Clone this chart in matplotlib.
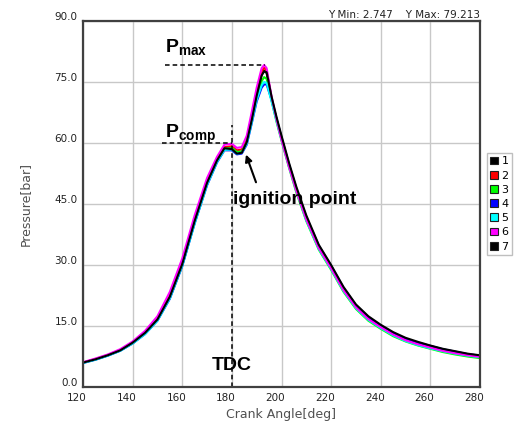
import matplotlib
matplotlib.use("Agg")
import matplotlib.pyplot as plt
import matplotlib.transforms as mtransforms
from matplotlib.patches import Patch

# crank angle [deg] shared by all cycles
angle = [120, 125, 130, 135, 140, 145, 150, 155, 160, 165, 170, 174, 177, 180, 182, 184, 186, 188, 190,
         192, 193, 194, 196, 198, 200, 203, 206, 210, 215, 220, 225, 230, 235, 240, 245, 250, 255,
         260, 265, 270, 275, 280]

# pressure [bar] for cycles 1..7
p1 = [6.0, 6.8, 7.8, 9.0, 10.8, 13.2, 16.5, 22.0, 30.0, 40.5, 50.0, 55.6, 58.6, 58.6, 57.6, 57.8, 60.4, 66.0, 72.0,
      76.8, 77.8, 77.2, 70.8, 65.8, 61.2, 54.6, 48.6, 41.6, 34.6, 29.6, 24.2, 20.0, 17.1, 15.0, 13.2, 11.8, 10.8,
      10.0, 9.2, 8.6, 8.0, 7.6]
p2 = [6.0, 6.9, 7.9, 9.1, 11.0, 13.4, 16.8, 22.4, 30.6, 41.0, 50.5, 56.0, 59.0, 59.2, 58.2, 58.4, 61.0, 66.6, 72.6,
      77.6, 78.5, 77.8, 71.0, 65.8, 61.0, 54.4, 48.4, 41.4, 34.4, 29.4, 24.0, 19.8, 16.9, 14.8, 13.0, 11.6, 10.6,
      9.8, 9.0, 8.4, 7.8, 7.4]
p3 = [6.0, 6.8, 7.8, 9.0, 10.8, 13.2, 16.5, 22.0, 30.0, 40.6, 50.0, 55.6, 58.6, 58.8, 57.8, 57.9, 60.2, 65.6, 71.2,
      75.2, 76.2, 75.8, 70.4, 65.2, 60.6, 54.0, 47.8, 40.8, 33.8, 28.8, 23.4, 19.2, 16.3, 14.3, 12.5, 11.2, 10.2,
      9.4, 8.6, 8.0, 7.5, 7.1]
p4 = [5.9, 6.7, 7.7, 8.9, 10.7, 13.0, 16.3, 21.7, 29.7, 40.2, 49.6, 55.2, 58.2, 58.2, 57.2, 57.4, 59.6, 64.8, 70.2,
      73.6, 74.4, 74.4, 70.6, 66.0, 61.4, 54.8, 48.8, 41.8, 34.8, 29.8, 24.4, 20.1, 17.2, 15.1, 13.3, 11.9, 10.9,
      10.1, 9.3, 8.7, 8.1, 7.7]
p5 = [5.9, 6.7, 7.7, 8.9, 10.7, 13.0, 16.3, 21.8, 29.8, 40.2, 49.7, 55.3, 58.3, 58.4, 57.4, 57.6, 59.8, 65.0, 70.6,
      74.2, 75.0, 74.8, 70.2, 65.4, 60.8, 54.2, 48.2, 41.0, 34.0, 29.0, 23.6, 19.4, 16.5, 14.5, 12.7, 11.3, 10.3,
      9.5, 8.8, 8.2, 7.7, 7.3]
p6 = [6.1, 7.0, 8.0, 9.3, 11.2, 13.8, 17.4, 23.4, 31.6, 42.2, 51.4, 56.6, 59.6, 59.8, 58.8, 59.0, 61.8, 67.6, 73.6,
      78.4, 79.2, 78.4, 71.4, 65.8, 60.8, 54.2, 48.2, 41.2, 34.2, 29.2, 23.8, 19.6, 16.7, 14.7, 12.9, 11.5, 10.5,
      9.7, 8.9, 8.3, 7.8, 7.4]
p7 = [6.0, 6.8, 7.8, 9.0, 10.9, 13.3, 16.6, 22.2, 30.2, 40.8, 50.2, 55.7, 58.7, 58.5, 57.4, 57.6, 60.2, 65.6, 71.6,
      76.6, 77.6, 77.4, 71.4, 66.4, 61.8, 55.2, 49.2, 42.2, 35.0, 30.0, 24.6, 20.3, 17.4, 15.3, 13.5, 12.1, 11.1,
      10.2, 9.4, 8.8, 8.2, 7.8]

cycles = [p1, p2, p3, p4, p5, p6, p7]
labels = ["1", "2", "3", "4", "5", "6", "7"]
colors = ["#000000", "#ff0000", "#00ff00", "#0000ff", "#00ffff", "#ff00ff", "#000000"]

x_ticks = [120, 140, 160, 180, 200, 220, 240, 260, 280]
y_ticks = [0, 15, 30, 45, 60, 75, 90]

y_min, y_max = 2.747, 79.213
p_comp = 60.0
tdc = 180

plt.rcParams["mathtext.fontset"] = "custom"
plt.rcParams["mathtext.rm"] = "Liberation Sans"
plt.rcParams["mathtext.bf"] = "Liberation Sans:bold"

fig = plt.figure(figsize=(5.24, 4.28), dpi=100)
ax = fig.add_axes([83 / 524, 41 / 428, 397 / 524, 366 / 428])

for p, c, lab in zip(cycles, colors, labels):
    ax.plot(angle, p, color=c, lw=1.5, label=lab)

ax.set_xlim(120, 280)
ax.set_ylim(0, 90)
ax.set_xticks(x_ticks)
ax.set_yticks(y_ticks)
ax.set_xticklabels([str(v) for v in x_ticks])
ax.set_yticklabels([f"{v:.1f}" for v in y_ticks])
ax.tick_params(length=0, labelsize=7.5, labelcolor="#222222", pad=4)
ax.grid(True, color="#c8c8c8", lw=1)
ax.set_axisbelow(True)
for s in ax.spines.values():
    s.set_color("#404040")
    s.set_linewidth(1.6)

# tick labels in the original sit a little left / above the grid line
dx = mtransforms.ScaledTranslation(-6 / 100, 0, fig.dpi_scale_trans)
dy = mtransforms.ScaledTranslation(0, 5 / 100, fig.dpi_scale_trans)
for lbl in ax.get_xticklabels():
    lbl.set_transform(lbl.get_transform() + dx)
for lbl in ax.get_yticklabels():
    lbl.set_transform(lbl.get_transform() + dy)

ax.set_xlabel("Crank Angle[deg]", fontsize=9, color="#505050", labelpad=4)
ax.set_ylabel("Pressure[bar]", fontsize=9, color="#505050", labelpad=16)

fig.text(480 / 524, 1 - 15 / 428, f"Y Min: {y_min}    Y Max: {y_max}", ha="right", va="center",
         fontsize=7.5, color="#222222")

# annotations
dash = dict(color="k", lw=1.1, ls=(0, (3, 2)))
ax.plot([153, 193.4], [y_max, y_max], **dash)
ax.plot([152, tdc], [p_comp, p_comp], **dash)
ax.plot([tdc, tdc], [0, 64.5], **dash)

ann = dict(fontsize=14, fontweight="bold", family="Liberation Sans", color="k")
ax.text(153, 82.4, r"$\mathbf{P_{max}}$", va="baseline", ha="left", fontsize=14)
ax.text(153, 61.3, r"$\mathbf{P_{comp}}$", va="baseline", ha="left", fontsize=14)
ax.text(tdc, 4.3, "TDC", ha="center", va="baseline", **ann)
ax.text(180.5, 45.0, "ignition point", ha="left", va="baseline", **ann)
ax.annotate("", xy=(185.3, 57.8), xytext=(190.1, 49.7),
            arrowprops=dict(arrowstyle="-|>", color="k", lw=1.5, mutation_scale=10))

handles = [Patch(facecolor=c, edgecolor="#202020", lw=0.8) for c in colors]
fig.legend(handles, labels, loc="upper left", bbox_to_anchor=(487 / 524, 1 - 153 / 428),
           fontsize=8, frameon=True, fancybox=False, edgecolor="#b0b0b0",
           handlelength=0.7, handleheight=0.7, handletextpad=0.3, labelspacing=0.38,
           borderpad=0.3, borderaxespad=0)

fig.savefig("out.png", dpi=100)
